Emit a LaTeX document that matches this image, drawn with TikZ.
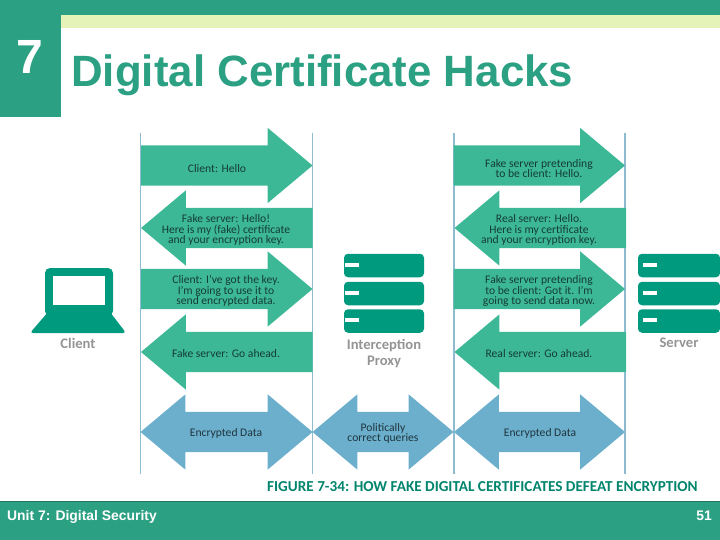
\documentclass[tikz,border=0pt]{standalone}
\usepackage{fontspec}
\setmainfont{Liberation Sans}
\newfontfamily\figfont{Carlito}
\usetikzlibrary{shapes.arrows}
\definecolor{bargreen}{HTML}{2BA082}
\definecolor{barpale}{HTML}{E5F3B8}
\definecolor{msggreen}{HTML}{3DB897}
\definecolor{msgblue}{HTML}{6BAFCD}
\definecolor{icongreen}{HTML}{009B7F}
\definecolor{lifeline}{HTML}{8FBBD0}
\tikzset{
  msgright/.style={single arrow, fill=msggreen, inner sep=0pt, outer sep=0pt,
    text height=40pt, text depth=0pt, text width=0pt,
    minimum height=171.5pt, minimum width=75pt, single arrow head extend=17.5pt,
    single arrow tip angle=80, anchor=tip},
  msgleft/.style={msgright, shape border rotate=180},
  msgboth/.style={double arrow, fill=msgblue, inner sep=0pt, outer sep=0pt,
    text height=40pt, text depth=0pt, text width=0pt,
    minimum width=75pt, double arrow head extend=17.5pt, double arrow tip angle=80},
  msgtext/.style={font=\figfont\fontsize{11.6}{10.7}\selectfont, text=black!45!msggreen!60!black,
    align=center, inner sep=0pt, yshift=-1pt},
  bluetext/.style={msgtext, text=msgblue!30!black},
  rack/.style={fill=icongreen, rounded corners=4pt, minimum width=80pt, minimum height=23.5pt,
    inner sep=0pt},
  slot/.style={fill=white, minimum width=14pt, minimum height=4.5pt, inner sep=0pt},
  iconlabel/.style={font=\figfont\bfseries\fontsize{14.6}{16}\selectfont, text=black!42, align=center, inner sep=0pt},
  footertext/.style={font=\bfseries\fontsize{13.9}{16}\selectfont, text=white, inner sep=0pt},
}
\begin{document}
\begin{tikzpicture}[x=1pt,y=-1pt]
    \useasboundingbox (0,0) rectangle (720,540);

    % Slide frame
    \fill[bargreen] (0,0) rectangle (720,15);
    \fill[barpale] (61,15) rectangle (720,28);
    \fill[bargreen] (0,0) rectangle (61,117);
    \fill[bargreen] (0,501) rectangle (720,540);
    \draw[bargreen!75!black, line width=0.8pt] (0,501) -- (720,501);
    \node[font=\bfseries\fontsize{48}{50}\selectfont, text=white, inner sep=0pt] (unitno) at (30,57) {7};
    \node[font=\bfseries\fontsize{43.85}{46}\selectfont, text=bargreen, inner sep=0pt, anchor=base west] (title) at (71,87) {Digital Certificate Hacks};
    \node[footertext, anchor=base west] (unit) at (7,520) {Unit 7: Digital Security};
    \node[footertext, anchor=base east] (page) at (712,520) {51};

    % Lifelines
    \coordinate (clienttop) at (140.5,133);
    \coordinate (clientend) at (140.5,474);
    \coordinate (proxyltop) at (312.5,133);
    \coordinate (proxylend) at (312.5,474);
    \coordinate (proxyrtop) at (454,133);
    \coordinate (proxyrend) at (454,474);
    \coordinate (servertop) at (625,133);
    \coordinate (serverend) at (625,474);
    \draw[lifeline, line width=1.2pt] (clienttop) -- (clientend);
    \draw[lifeline, line width=1.2pt] (proxyltop) -- (proxylend);
    \draw[lifeline, line width=1.2pt] (proxyrtop) -- (proxyrend);
    \draw[lifeline, line width=1.2pt] (servertop) -- (serverend);

    % Client side messages
    \node[msgright] (chello) at (312.5,165.5) {};
    \node[msgleft] (fhello) at (141,228) {};
    \node[msgright] (ckey) at (312.5,289) {};
    \node[msgleft] (fahead) at (141,352) {};
    \node[msgboth, minimum height=172pt] (cdata) at (226.5,432) {};
    \node[msgtext] at (217,168) {Client: Hello};
    \node[msgtext] at (226,229) {Fake server: Hello!\\Here is my (fake) certificate\\and your encryption key.};
    \node[msgtext] at (226,290) {Client: I’ve got the key.\\I’m going to use it to\\send encrypted data.};
    \node[msgtext] at (226,353) {Fake server: Go ahead.};
    \node[bluetext] at (226,432.5) {Encrypted Data};

    % Server side messages
    \node[msgright] (shello) at (625,165.5) {};
    \node[msgleft] (rhello) at (454.5,228) {};
    \node[msgright] (sgot) at (625,289) {};
    \node[msgleft] (rahead) at (454.5,352) {};
    \node[msgboth, minimum height=171pt] (sdata) at (539.5,432) {};
    \node[msgtext] at (539,167.5) {Fake server pretending\\to be client: Hello.};
    \node[msgtext] at (539,229) {Real server: Hello.\\Here is my certificate\\and your encryption key.};
    \node[msgtext] at (539,290) {Fake server pretending\\to be client: Got it. I’m\\going to send data now.};
    \node[msgtext] at (539,353) {Real server: Go ahead.};
    \node[bluetext] at (540,432.5) {Encrypted Data};

    % Queries between the two lifelines of the proxy
    \node[msgboth, minimum height=141pt] (queries) at (383,432) {};
    \node[bluetext] at (383,432.5) {Politically\\correct queries};

    % Client laptop
    \fill[icongreen, rounded corners=5pt] (45,268) rectangle (113,316);
    \fill[icongreen, rounded corners=3pt] (48,312) -- (110,312) -- (126,333) -- (30,333) -- cycle;
    \fill[white] (53,276) rectangle (105,305);
    \node[iconlabel] (client) at (78,343) {Client};

    % Proxy racks
    \node[rack] (proxya) at (384,265.5) {};
    \node[rack] (proxyb) at (384,293.5) {};
    \node[rack] (proxyc) at (384,321) {};
    \node[slot] at (351.5,265) {};
    \node[slot] at (351.5,293) {};
    \node[slot] at (351.5,320) {};
    \node[iconlabel] (proxy) at (384,353.5) {Interception\\Proxy};

    % Server racks
    \node[rack, minimum width=82pt] (servera) at (679,265.5) {};
    \node[rack, minimum width=82pt] (serverb) at (679,293.5) {};
    \node[rack, minimum width=82pt] (serverc) at (679,321) {};
    \node[slot] at (650,265) {};
    \node[slot] at (650,293) {};
    \node[slot] at (650,320) {};
    \node[iconlabel] (server) at (679,343) {Server};

    % Caption
    \node[font=\figfont\bfseries\fontsize{15.2}{16}\selectfont, text=icongreen!85!black, inner sep=0pt, anchor=base west] (caption) at (267,491) {FIGURE 7-34: HOW FAKE DIGITAL CERTIFICATES DEFEAT ENCRYPTION};
\end{tikzpicture}
\end{document}
